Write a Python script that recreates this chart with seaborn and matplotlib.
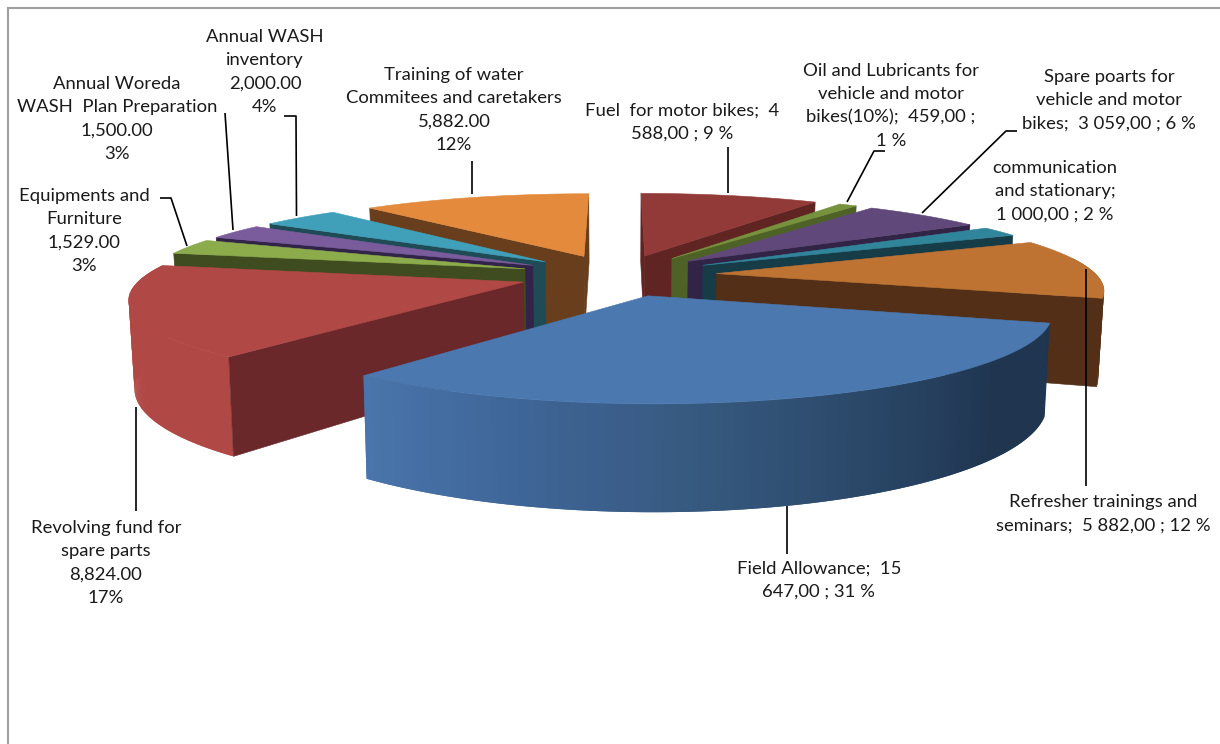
import numpy as np
import pandas as pd
import matplotlib
matplotlib.use("Agg")
import matplotlib.pyplot as plt
import seaborn as sns

# Budget lines, clockwise from twelve o'clock
categories = ["Fuel", "Oil", "Spare", "Communication", "Refresher", "Field",
              "Revolving", "Equipment", "Woreda", "Inventory", "Training"]
amounts = [4588, 459, 3059, 1000, 5882, 15647, 8824, 1529, 1500, 2000, 5882]
labels = [
    "Fuel  for motor bikes;  4\n588,00 ; 9 %",
    "Oil and Lubricants for\nvehicle and motor\nbikes(10%);  459,00 ;\n1 %",
    "Spare poarts for\nvehicle and motor\nbikes;  3 059,00 ; 6 %",
    "communication\nand stationary;\n1 000,00 ; 2 %",
    "Refresher trainings and\nseminars;  5 882,00 ; 12 %",
    "Field Allowance;  15\n647,00 ; 31 %",
    "Revolving fund for\nspare parts\n8,824.00\n17%",
    "Equipments and\nFurniture\n1,529.00\n3%",
    "Annual Woreda\nWASH  Plan Preparation\n1,500.00\n3%",
    "Annual WASH\ninventory\n2,000.00\n4%",
    "Training of water\nCommitees and caretakers\n5,882.00\n12%",
]
top_colors = ["#923a38", "#76923c", "#60497a", "#31859b", "#be7332", "#4a78af",
              "#b04846", "#8cab4b", "#7a5b9b", "#41a0b9", "#e48a3c"]
side_colors = ["#602523", "#4e6228", "#322446", "#163c48", "#522f16", "#1f3550",
               "#6a282a", "#3e4c20", "#322448", "#1e4b55", "#693e1c"]

label_anchor = [(682, 122), (891, 106), (1109, 100), (1055, 191), (1103, 514), (819, 580),
                (106, 563), (84, 231), (117, 119), (265, 72), (454, 110)]
leader_paths = [
    [(728, 147), (728, 193)],
    [(885, 151), (874, 151), (847, 202)],
    [(1017, 131), (1006, 131), (922, 213)],
    None,
    [(1086, 269), (1086, 486)],
    [(787, 506), (787, 554)],
    [(136, 407), (136, 511)],
    [(160, 198), (171, 198), (187, 246)],
    [(225, 113), (233, 230)],
    [(284, 116), (296, 116), (296.5, 216)],
    [(472, 161), (472, 194)],
]

budget = pd.DataFrame({"category": categories, "amount": amounts, "label": labels,
                       "top": top_colors, "side": side_colors})
fractions = budget["amount"] / budget["amount"].sum()
budget["start"] = 360 * fractions.cumsum().shift(fill_value=0)
budget["end"] = 360 * fractions.cumsum()
budget["mid"] = (budget["start"] + budget["end"]) / 2

# Perspective view of the exploded pie
CX, CY = 618, 275
RX, RY = 380, 80
DEPTH = 84
PERSP_X = 0.17
PERSP_Y = 0.18
EXPLODE = 0.26
BASE_SHRINK = 0.988


def project(theta_deg, radius, mid_deg, drop=False):
    """Screen position of a polar point on a slice pushed out along its mid angle."""
    t, m = np.radians(theta_deg), np.radians(mid_deg)
    x = radius * np.sin(t) + EXPLODE * np.sin(m)
    y = radius * np.cos(t) + EXPLODE * np.cos(m)
    sx = 1 / (1 + PERSP_X * y)
    sy = 1 / (1 + PERSP_Y * y)
    if drop:
        return np.column_stack([CX + RX * x * sx * BASE_SHRINK, CY - RY * y * sy + DEPTH * sy])
    return np.column_stack([CX + RX * x * sx, CY - RY * y * sy])


sns.set_theme(style="white")
plt.rcParams["font.family"] = ["Lato", "DejaVu Sans"]

fig = plt.figure(figsize=(12.2, 7.44), dpi=100, facecolor="white")
ax = fig.add_axes([8 / 1220, 0, 1 - 8 / 1220, 1 - 8 / 744])
ax.set_xlim(8, 1220)
ax.set_ylim(744, 8)
ax.set_xticks([])
ax.set_yticks([])
sns.despine(ax=ax, top=False, right=True, left=False, bottom=True)
for side in ("left", "top"):
    ax.spines[side].set_color("#a0a0a0")
    ax.spines[side].set_linewidth(1.5)

# Back slices first, the large front slice last
order = budget.assign(depth=np.cos(np.radians(budget["mid"]))).sort_values("depth", ascending=False)

rim_blue = sns.blend_palette(["#1f3550", "#1f3550", "#2a4767", "#36597f", "#3f6698", "#4a76ad"], 200)

for _, row in order.iterrows():
    thetas = np.linspace(row["start"], row["end"], 160)
    top_arc = project(thetas, 1.0, row["mid"])
    low_arc = project(thetas, 1.0, row["mid"], drop=True)
    apex = project(np.array([row["mid"]]), 0.0, row["mid"])
    apex_low = project(np.array([row["mid"]]), 0.0, row["mid"], drop=True)

    # Outer rim in overlapping strips, so the shading can vary along it without seams
    for i in range(len(thetas) - 1):
        if np.cos(np.radians(thetas[i])) > 0.2:
            continue
        if row["category"] == "Field":
            share = (thetas[i] - row["start"]) / (row["end"] - row["start"])
            shade = rim_blue[int(share * 199)]
        elif row["category"] == "Revolving":
            shade = row["top"]
        else:
            shade = row["side"]
        strip = np.vstack([top_arc[i:i + 3], low_arc[i:i + 3][::-1]])
        ax.fill(strip[:, 0], strip[:, 1], color=shade, lw=0, zorder=1)

    # Radial cut faces that look towards the viewer
    if np.sin(np.radians(row["end"])) >= -1e-6:
        wall = np.vstack([apex, top_arc[-1:], low_arc[-1:], apex_low])
        ax.fill(wall[:, 0], wall[:, 1], color=row["side"], lw=0.4, zorder=1)
    if np.sin(np.radians(row["start"])) <= 1e-6:
        wall = np.vstack([apex, top_arc[:1], low_arc[:1], apex_low])
        ax.fill(wall[:, 0], wall[:, 1], color=row["side"], lw=0.4, zorder=1)

    face = np.vstack([apex, top_arc])
    ax.fill(face[:, 0], face[:, 1], color=row["top"], lw=0.4, zorder=1)

for path in leader_paths:
    if path is not None:
        xs, ys = zip(*path)
        ax.plot(xs, ys, color="black", lw=1.2, solid_capstyle="butt", zorder=3)

for text, (lx, ly) in zip(budget["label"], label_anchor):
    ax.text(lx, ly, text, ha="center", va="center", multialignment="center",
            fontsize=13.3, linespacing=1.55, color="#1a1a1a", zorder=4)

fig.savefig("out.png", dpi=100, facecolor="white")
